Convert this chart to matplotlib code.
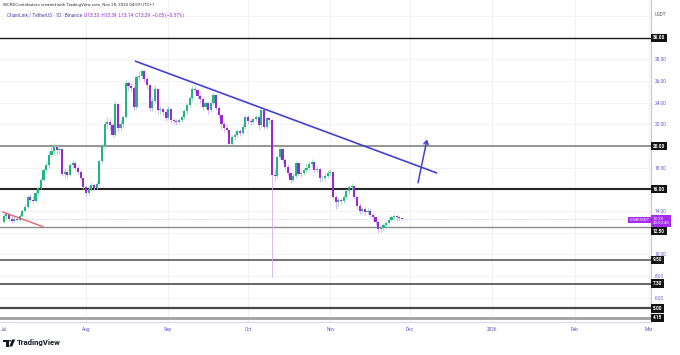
import numpy as np
import pandas as pd
import matplotlib
matplotlib.use('Agg')
import matplotlib.pyplot as plt
from matplotlib.patches import Polygon, Circle, FancyArrowPatch

plt.rcParams['font.family'] = ['Roboto', 'DejaVu Sans']

# ---------------- data ----------------
start_date = '2025-07-01'
first_open = 13.0
closes = [13.5, 13.7, 13.3, 13.1, 13.3, 13.2, 13.5, 14.0, 14.4, 15.3,
          15.0, 14.9, 15.7, 16.1, 16.9, 17.8, 18.2, 19.2, 19.5, 19.9,
          19.6, 19.7, 17.4, 17.6, 17.3, 18.2, 18.4, 18.0, 17.6, 17.0,
          16.2, 15.7, 16.0, 16.4, 16.1, 16.5, 18.6, 20.0, 22.0, 22.2,
          21.9, 21.0, 23.9, 21.7, 22.0, 22.7, 25.8, 25.5, 25.4, 23.6,
          26.4, 26.5, 26.9, 26.2, 25.6, 23.5, 24.2, 25.3, 23.3, 23.4,
          23.1, 22.6, 23.4, 22.4, 22.3, 22.2, 22.4, 22.7, 23.2, 23.8,
          24.4, 25.3, 25.2, 24.6, 24.3, 23.6, 24.0, 23.3, 24.0, 24.7,
          23.5, 22.9, 22.0, 21.7, 21.5, 20.2, 20.8, 21.0, 21.4, 21.2,
          21.8, 22.7, 22.3, 22.2, 22.5, 22.7, 21.9, 23.3, 21.8, 22.6,
          22.4, 17.3, 17.2, 19.0, 19.7, 18.7, 18.1, 17.5, 16.9, 17.2,
          18.4, 17.4, 17.5, 17.8, 18.0, 18.3, 18.5, 17.8, 17.9, 17.0,
          17.0, 17.2, 17.5, 17.6, 15.3, 14.8, 15.0, 14.9, 15.3, 15.8,
          16.2, 16.3, 15.3, 14.5, 14.0, 14.2, 13.9, 14.0, 13.6, 13.4,
          13.0, 12.3, 12.4, 12.7, 12.9, 13.2, 13.4, 13.5, 13.4, 13.33,
          13.29]
highs = [13.7, 13.9, 13.8, 13.5, 13.5, 13.5, 13.7, 14.2, 14.6, 15.5,
         15.6, 15.4, 15.9, 16.3, 17.1, 18.0, 18.6, 19.5, 19.9, 20.3,
         20.1, 20.0, 19.8, 18.0, 17.8, 18.4, 18.7, 18.6, 18.2, 17.8,
         17.1, 16.4, 16.3, 16.7, 16.6, 16.8, 18.8, 20.3, 22.3, 22.7,
         22.6, 22.1, 24.2, 24.0, 22.4, 22.9, 26.1, 26.0, 25.8, 25.5,
         26.6, 26.9, 27.1, 27.0, 26.4, 25.7, 24.5, 25.6, 25.4, 23.7,
         23.6, 23.3, 23.7, 23.5, 22.6, 22.5, 22.6, 22.9, 23.4, 24.0,
         24.6, 25.5, 25.6, 25.3, 24.8, 24.4, 24.2, 24.1, 24.2, 24.9,
         24.8, 23.7, 23.0, 22.2, 22.0, 21.6, 21.0, 21.3, 21.6, 21.6,
         22.0, 22.9, 22.9, 22.5, 22.7, 22.9, 22.8, 23.5, 23.4, 22.8,
         22.7, 22.5, 17.9, 19.2, 19.9, 19.8, 18.9, 18.3, 17.6, 17.5,
         18.6, 18.5, 17.8, 18.0, 18.3, 18.6, 18.8, 18.6, 18.2, 18.0,
         17.3, 17.5, 17.8, 17.9, 17.7, 15.5, 15.3, 15.2, 15.5, 16.0,
         16.4, 16.6, 16.4, 15.4, 14.7, 14.4, 14.4, 14.3, 14.2, 13.8,
         13.5, 13.1, 12.7, 12.9, 13.1, 13.4, 13.6, 13.7, 13.6, 13.5,
         13.39]
lows = [12.9, 13.3, 13.1, 12.9, 13.0, 13.0, 13.1, 13.4, 13.9, 14.3,
        14.8, 14.6, 14.8, 15.5, 16.0, 16.8, 17.6, 18.0, 19.0, 19.2,
        19.2, 19.3, 17.2, 17.0, 17.0, 17.2, 18.0, 17.8, 17.4, 16.9,
        16.0, 15.4, 15.5, 15.8, 15.9, 16.0, 16.3, 18.4, 19.8, 21.6,
        21.5, 20.8, 20.9, 21.3, 21.4, 21.8, 22.6, 25.1, 25.0, 23.3,
        23.4, 26.0, 26.2, 25.9, 25.3, 23.2, 23.2, 24.0, 23.0, 23.0,
        22.8, 22.3, 22.5, 22.1, 22.0, 21.9, 22.0, 22.2, 22.5, 23.0,
        23.6, 24.2, 24.9, 24.3, 24.0, 23.3, 23.4, 23.0, 23.1, 23.8,
        23.3, 22.6, 21.6, 21.3, 21.2, 20.0, 20.1, 20.6, 20.8, 20.9,
        21.0, 21.6, 22.0, 21.9, 22.0, 22.3, 21.6, 21.8, 21.6, 21.6,
        22.0, 7.9, 16.8, 17.0, 18.8, 18.4, 17.8, 17.2, 16.6, 16.7,
        17.0, 17.2, 17.1, 17.3, 17.6, 17.8, 18.1, 17.5, 17.6, 16.7,
        16.7, 16.8, 17.0, 17.3, 15.0, 14.2, 14.5, 14.6, 14.7, 15.1,
        15.6, 15.9, 15.1, 14.2, 13.7, 13.8, 13.6, 13.7, 13.4, 13.1,
        12.7, 11.95, 12.1, 12.2, 12.6, 12.8, 13.1, 13.2, 13.1, 13.1,
        13.14]

last_price = 13.29
levels = [30.00, 20.00, 16.00, 12.50, 9.50, 7.30, 5.00, 4.15]
level_labels = ['30.00', '20.00', '16.00', '12.50', '9.50', '7.30', '5.00', '4.15']
price_ticks = [6, 8, 10, 14, 18, 22, 24, 26, 28]
month_labels = ['Jul', 'Aug', 'Sep', 'Oct', 'Nov', 'Dec', '2026', 'Feb', 'Mar']
month_dates = ['2025-07-01', '2025-08-01', '2025-09-01', '2025-10-01', '2025-11-01',
               '2025-12-01', '2026-01-01', '2026-02-01', '2026-03-01']
# trend drawings (day offset from start, price)
blue_trend = [(49.4, 27.85), (163.2, 17.5)]
red_trend = [(-0.3, 13.9), (14.8, 12.55)]
blue_arrow = [(156.0, 16.6), (159.4, 20.6)]

# ---------------- derived ----------------
t0 = pd.Timestamp(start_date)
dates = pd.date_range(start_date, periods=len(closes), freq='D')
day = np.asarray((dates - t0).days, dtype=float)
closes = np.array(closes)
highs = np.array(highs)
lows = np.array(lows)
opens = np.r_[first_open, closes[:-1]]
month_pos = [(pd.Timestamp(m) - t0).days for m in month_dates]

W, H = 680, 355
fig = plt.figure(figsize=(W / 100, H / 100), dpi=100)
ax_left, ax_right, ax_top, ax_bottom = 0, 651, 0, 322
ax = fig.add_axes([ax_left / W, 1 - ax_bottom / H, (ax_right - ax_left) / W, (ax_bottom - ax_top) / H])

# scales: px per day 2.656, Aug 1 at x=86 ; 10.83 px per unit, 30 at y=37.7
px_day = 2.656
d_left = 31 + (0 - 86) / px_day
d_right = 31 + (651 - 86) / px_day
px_unit = 10.83
y_top = 30 + 37.7 / px_unit
y_bot = 30 - (322 - 37.7) / px_unit
ax.set_xlim(d_left, d_right)
ax.set_ylim(y_bot, y_top)

GREEN = '#22b583'
PURPLE = '#9b27d6'
GREEN_W = '#95d9bd'
PURPLE_W = '#d2aef0'
AXIS_TXT = '#5a5cc8'

# grid
for m in month_pos[1:]:
    ax.axvline(m, color='#f1f1f6', lw=0.8, zorder=0)
for t in range(4, 34, 2):
    ax.axhline(t, color='#f3f3f7', lw=0.8, zorder=0)

# horizontal level lines
lvl_style = {30.00: ('#1c1c1c', 1.0), 20.00: ('#8c8c8c', 1.3), 16.00: ('#262626', 1.5),
             12.50: ('#8c8c8c', 1.0), 9.50: ('#5a5a5a', 1.2), 7.30: ('#4a4a4a', 1.2),
             5.00: ('#4a4a4a', 1.6), 4.15: ('#a0a0a0', 2.0)}
for lv in levels:
    c, lw = lvl_style[lv]
    ax.axhline(lv, color=c, lw=lw, zorder=2)

# current price line
ax.axhline(last_price, color='#d9c4ee', lw=0.6, ls=(0, (1, 1)), zorder=2)

# candles
up = closes >= opens
body_bottom = np.minimum(opens, closes)
body_h = np.maximum(np.abs(closes - opens), 0.07)
ax.vlines(day, lows, highs, colors=np.where(up, GREEN_W, PURPLE_W), lw=0.6, zorder=3)
ax.bar(day, body_h, bottom=body_bottom, width=0.8, color=np.where(up, GREEN, PURPLE),
       lw=0, zorder=4)

# trendlines
ax.plot([p[0] for p in blue_trend], [p[1] for p in blue_trend], color='#4141cf', lw=1.2, zorder=5,
        solid_capstyle='butt')
ax.plot([p[0] for p in red_trend], [p[1] for p in red_trend], color='#e8626d', lw=1.0, zorder=5)
arr = FancyArrowPatch(blue_arrow[0], blue_arrow[1], arrowstyle='->,head_length=2.5,head_width=1.6',
                      color='#4141cf', lw=1.1, zorder=6, shrinkA=0, shrinkB=0)
ax.add_patch(arr)

# axes styling
for s in ['top', 'left']:
    ax.spines[s].set_visible(False)
ax.spines['right'].set_color('#c3c3ea')
ax.spines['bottom'].set_color('#d6d6ef')
ax.spines['right'].set_linewidth(0.8)
ax.spines['bottom'].set_linewidth(0.8)
ax.yaxis.tick_right()
ax.set_yticks(price_ticks)
ax.set_yticklabels([f'{t:.2f}' for t in price_ticks])
ax.tick_params(axis='y', length=0, pad=2.5, labelsize=3.4, labelcolor=AXIS_TXT)
ax.set_xticks([])

ytr = ax.get_yaxis_transform()
xtr = ax.get_xaxis_transform()

# month labels
for lab, m in zip(month_labels, month_pos):
    if lab == 'Jul':
        ax.text(d_left + 0.4, -0.017, lab, transform=xtr, ha='left', va='top', fontsize=3.4,
                color=AXIS_TXT, clip_on=False)
    else:
        ax.text(m, -0.017, lab, transform=xtr, ha='center', va='top', fontsize=3.4,
                color=AXIS_TXT, clip_on=False)

# level boxes
for lv, lab in zip(levels, level_labels):
    ypos = lv if lv != 12.50 else 12.15
    ax.text(1.003, ypos, lab, transform=ytr, ha='left', va='center', fontsize=3.3,
            color='white', fontweight='bold',
            bbox=dict(boxstyle='square,pad=0.35', fc='#131313', ec='none'), zorder=10, clip_on=False)

# current price labels
ax.text(0.9985, last_price - 0.12, 'LINKUSDT', transform=ytr, ha='right', va='center', fontsize=3.2,
        color='white', bbox=dict(boxstyle='square,pad=0.3', fc='#a52cf0', ec='none'), zorder=11,
        clip_on=False)
ax.text(1.003, last_price - 0.2, '13.29\n20:00:40', transform=ytr, ha='left', va='center',
        fontsize=3.2, color='white', linespacing=1.1,
        bbox=dict(boxstyle='square,pad=0.35', fc='#a52cf0', ec='none'), zorder=11, clip_on=False)

# USDT label
fig.text(655 / W, 1 - 15 / H, 'USDT', ha='left', va='center', fontsize=3.3, color='#555555')

# header
fig.text(3 / W, 1 - 5 / H, 'WCRDContributors created with TradingView.com, Nov 28, 2025 04:59 UTC+1',
         ha='left', va='center', fontsize=3.2, color='#333333')
t1 = fig.text(7 / W, 1 - 15 / H, 'ChainLink / TetherUS · 1D · Binance ', ha='left', va='center',
              fontsize=3.4, color='#4b4bb5')
fig.canvas.draw()
ax.annotate(' O13.33  H13.39  L13.14  C13.29  −0.05 (−0.37%)', xy=(1, 0.5), xycoords=t1,
            ha='left', va='center', fontsize=3.4, color='#9b27d6', annotation_clip=False)

# TradingView logo
def px(x, y):
    return (x / W, 1 - y / H)

fig.patches.append(Polygon([px(3, 339.5), px(8.5, 339.5), px(8.5, 346.5), px(6, 346.5), px(6, 342),
                            px(3, 342)], closed=True, fc='#131722', ec='none', transform=fig.transFigure))
fig.patches.append(Circle(px(10.3, 340.8), 1.3 / W, fc='#131722', ec='none', transform=fig.transFigure))
fig.patches.append(Polygon([px(12.2, 339.5), px(15.2, 339.5), px(12.2, 346.5), px(9.2, 346.5)],
                           closed=True, fc='#131722', ec='none', transform=fig.transFigure))
fig.text(17 / W, 1 - 343 / H, 'TradingView', ha='left', va='center', fontsize=5.6,
         color='#131722', fontweight='bold')

fig.savefig('out.png', dpi=100)
